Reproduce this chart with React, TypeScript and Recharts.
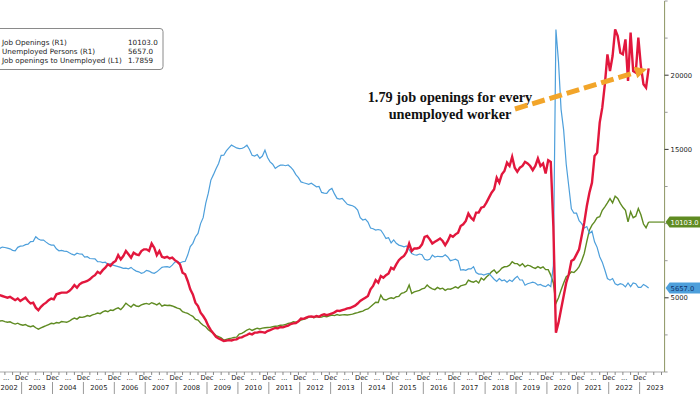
import React from 'react';
import { LineChart, Line, XAxis, YAxis, ReferenceLine } from 'recharts';

// monthly series, Jan 2002 .. Apr 2023
const years = [2002, 2003, 2004, 2005, 2006, 2007, 2008, 2009, 2010, 2011, 2012, 2013, 2014, 2015, 2016, 2017, 2018, 2019, 2020, 2021, 2022, 2023];

// Job openings, thousands (R1)
const jobOpenings = [
  3560, 3520, 3480, 3430, 3460, 3390, 3350, 3380, 3300, 3230, 3290, 3200,
  3150, 3200, 3100, 3050, 3110, 2980, 2890, 2980, 3050, 3120, 3200, 3280,
  3250, 3330, 3300, 3400, 3380, 3350, 3420, 3550, 3630, 3560, 3700, 3680,
  3720, 3800, 3760, 3850, 3900, 3970, 3930, 4050, 4120, 4060, 4180, 4150,
  4250, 4320, 4200, 4400, 4640, 4500, 4380, 4560, 4450, 4420, 4520, 4580,
  4620, 4560, 4670, 4600, 4520, 4640, 4440, 4510, 4480, 4500, 4450, 4380,
  4300, 4250, 4060, 4000, 3950, 3840, 3750, 3550, 3500, 3300, 3150, 3050,
  2850, 2710, 2600, 2450, 2380, 2300, 2150, 2200, 2250, 2280, 2330, 2350,
  2550, 2600, 2700, 2830, 2900, 2800, 2880, 2950, 2900, 2960, 2980, 3000,
  3010, 3050, 3080, 3100, 3150, 3160, 3200, 3280, 3300, 3390, 3350, 3420,
  3500, 3550, 3600, 3700, 3730, 3650, 3730, 3680, 3700, 3760, 3720, 3790,
  3840, 3800, 3870, 3820, 3850, 3860, 3840, 3870, 3900, 3960, 4000, 4060,
  4100, 4200, 4250, 4400, 4550, 4700, 4680, 5180, 4900, 4850, 4950, 5000,
  4950, 5070, 5100, 5300, 5350, 5450, 5860, 5300, 5400, 5450, 5500, 5600,
  5650, 5860, 5700, 5600, 5550, 5700, 5600, 5650, 5500, 5600, 5580, 5650,
  5740, 5650, 5800, 5850, 5900, 6195, 6100, 6050, 6150, 6000, 6330, 6200,
  6400, 6550, 6750, 6870, 6660, 6800, 7000, 7090, 7100, 7200, 7430, 7300,
  7300, 7150, 7300, 7090, 7200, 7150, 7050, 6980, 7100, 7000, 7090, 6900,
  6900, 6530, 6000, 4620, 5000, 5520, 6000, 6420, 6550, 6750, 6700, 6870,
  7100, 7500, 7990, 8800, 9560, 9900, 10120, 10400, 10460, 10900, 11130, 11400,
  11690, 11400, 11850, 11700, 11360, 11100, 10900, 10120, 10800, 10400, 10500, 11020,
  10600, 9970, 9720, 10103,
];

// Unemployed persons, thousands (R1)
const unemployed = [
  8180, 8210, 8300, 8330, 8420, 8390, 8350, 8300, 8200, 8170, 8400, 8480,
  8490, 8580, 8620, 8790, 8800, 9110, 8960, 8880, 8890, 8750, 8620, 8550,
  8550, 8300, 8170, 8200, 8150, 8130, 8030, 7940, 7880, 8000, 7950, 7940,
  7740, 7770, 7650, 7630, 7620, 7430, 7430, 7370, 7400, 7250, 7300, 7200,
  7150, 7100, 7050, 6980, 7000, 6950, 7050, 6900, 6800, 6750, 6650, 6700,
  6850, 6800, 6700, 6650, 6750, 6900, 7050, 7090, 7100, 7050, 7200, 7400,
  7450, 7350, 7430, 7450, 7880, 8450, 8670, 9100, 9340, 10000, 10400, 11360,
  12050, 12930, 13300, 13700, 14050, 14600, 14610, 14900, 15100, 15290, 15200, 15100,
  15050, 15060, 15150, 15290, 15000, 14600, 14550, 14650, 14400, 14550, 14950, 14450,
  14160, 14000, 13720, 13850, 13940, 13950, 13900, 13950, 13800, 13600, 13300, 13100,
  12810, 12750, 12700, 12650, 12720, 12600, 12480, 12500, 12100, 12050, 12030, 12260,
  12370, 12000, 11700, 11650, 11700, 11500, 11300, 11250, 11200, 11100, 10910, 10400,
  10240, 10300, 10100, 9700, 9650, 9560, 9600, 9550, 9300, 9000, 9050, 8700,
  8900, 8670, 8550, 8500, 8440, 8500, 8250, 7990, 7900, 7880, 7950, 7900,
  7600, 7540, 7600, 7880, 7750, 7800, 7770, 7770, 7900, 7750, 7500, 7550,
  7600, 7500, 6870, 6900, 6850, 6950, 6950, 7100, 6700, 6600, 6600, 6530,
  6600, 6650, 6450, 6250, 6100, 6300, 6150, 6200, 6050, 6200, 6100, 6300,
  6450, 6200, 6200, 5850, 5950, 6000, 6050, 6000, 5850, 5900, 5800, 5750,
  5900, 5750, 7150, 23080, 20900, 17700, 16300, 14000, 12500, 11000, 10700, 10700,
  10200, 10000, 9700, 9800, 9340, 9500, 8770, 8400, 7770, 7400, 6870, 6300,
  6190, 6300, 5950, 5860, 5950, 5900, 5740, 6000, 5750, 6000, 5950, 5700,
  5700, 5900, 5800, 5657,
];

// Job openings to unemployed ratio (L1)
const ratio = [
  0.435, 0.43, 0.42, 0.425, 0.42, 0.415, 0.41, 0.415, 0.405, 0.395, 0.405, 0.39,
  0.40, 0.41, 0.39, 0.375, 0.38, 0.35, 0.335, 0.355, 0.37, 0.38, 0.395, 0.405,
  0.40, 0.43, 0.435, 0.44, 0.44, 0.44, 0.45, 0.465, 0.485, 0.47, 0.49, 0.5,
  0.505, 0.51, 0.52, 0.535, 0.545, 0.565, 0.555, 0.575, 0.59, 0.61, 0.60, 0.62,
  0.63, 0.665, 0.64, 0.66, 0.69, 0.67, 0.65, 0.68, 0.67, 0.665, 0.69, 0.70,
  0.70, 0.69, 0.735, 0.71, 0.665, 0.69, 0.655, 0.65, 0.655, 0.645, 0.65, 0.635,
  0.625, 0.61, 0.56, 0.55, 0.51, 0.46, 0.43, 0.38, 0.36, 0.32, 0.30, 0.275,
  0.24, 0.215, 0.195, 0.175, 0.165, 0.158, 0.15, 0.152, 0.155, 0.153, 0.158, 0.16,
  0.17, 0.172, 0.18, 0.186, 0.195, 0.19, 0.2, 0.2, 0.205, 0.203, 0.2, 0.21,
  0.215, 0.222, 0.228, 0.226, 0.234, 0.232, 0.238, 0.242, 0.252, 0.256, 0.258, 0.268,
  0.285, 0.283, 0.29, 0.296, 0.297, 0.294, 0.3, 0.296, 0.305, 0.31, 0.305, 0.31,
  0.315, 0.322, 0.332, 0.33, 0.335, 0.34, 0.346, 0.348, 0.355, 0.362, 0.375, 0.39,
  0.40, 0.41, 0.42, 0.46, 0.48, 0.515, 0.5, 0.54, 0.53, 0.545, 0.555, 0.59,
  0.58, 0.61, 0.635, 0.65, 0.66, 0.685, 0.735, 0.69, 0.705, 0.705, 0.71, 0.73,
  0.775, 0.78, 0.76, 0.735, 0.745, 0.755, 0.765, 0.75, 0.725, 0.75, 0.785, 0.775,
  0.79, 0.80, 0.84, 0.85, 0.87, 0.915, 0.89, 0.875, 0.92, 0.92, 0.95, 0.955,
  0.98, 1.01, 1.04, 1.06, 1.13, 1.10, 1.15, 1.17, 1.22, 1.20, 1.255, 1.19,
  1.165, 1.19, 1.2, 1.225, 1.215, 1.2, 1.175, 1.2, 1.245, 1.2, 1.215, 1.155,
  1.235, 1.225, 0.84, 0.2, 0.26, 0.34, 0.42, 0.50, 0.55, 0.63, 0.64, 0.67,
  0.70, 0.78, 0.86, 0.96, 1.04, 1.10, 1.26, 1.28, 1.46, 1.55, 1.69, 1.87,
  1.77, 1.86, 2.02, 1.98, 1.88, 1.87, 1.96, 1.71, 2.0, 1.77, 1.76, 1.97,
  1.80, 1.69, 1.67, 1.7859,
];

const rightMajor = [5000, 15000, 20000];
const rightMinor = [0, 2500, 7500, 10000, 12500, 17500, 22500, 25000];

const legendLabels = ['Job Openings (R1)', 'Unemployed Persons (R1)', 'Job openings to Unemployed (L1)'];
const legendValues = ['10103.0', '5657.0', '1.7859'];

const RED = '#e2173d';
const BLUE = '#4d9fdb';
const GREEN = '#5f8b22';
const FONT = '"DejaVu Sans", Verdana, sans-serif';

const CHART_W = 707.6;
const CHART_H = 394;
const SHIFT = 7.6; // chart is moved left so Jan 2002 sits off the page
const AXIS_X = 672.6; // right axis, chart coords
const AXIS_Y = 372;
const MONTH_W = 2.575;

const lastIdx = jobOpenings.length - 1;
const lastOpen = jobOpenings[lastIdx];
const lastUnemp = unemployed[lastIdx];

const data = jobOpenings.map((v, i) => ({
  t: i,
  openings: v,
  unemployed: unemployed[i],
  ratio: ratio[i],
}));

const xTicks: number[] = [];
for (let t = 2; t <= 260; t += 3) xTicks.push(t);

const RightTick = (props: any) => {
  const { y, payload } = props;
  const v = payload.value;
  if (v === lastOpen || v === lastUnemp) {
    const fill = v === lastOpen ? GREEN : BLUE;
    const txt = v === lastOpen ? '#ffffff' : '#10306a';
    return (
      <g>
        <polygon
          points={`${AXIS_X + 1},${y} ${AXIS_X + 5},${y - 5.5} ${AXIS_X + 40},${y - 5.5} ${AXIS_X + 40},${y + 5.5} ${AXIS_X + 5},${y + 5.5}`}
          fill={fill}
        />
        <text x={AXIS_X + 6} y={y + 2.5} fontSize={6.8} fontFamily={FONT} fill={txt}>
          {v.toFixed(1)}
        </text>
      </g>
    );
  }
  const major = rightMajor.includes(v);
  return (
    <g>
      <line x1={AXIS_X} x2={AXIS_X + (major ? 4 : 3)} y1={y} y2={y} stroke={major ? '#333' : '#999'} />
      {major && (
        <text x={AXIS_X + 6} y={y + 2.5} fontSize={6.8} fontFamily={FONT} fill="#222">
          {v}
        </text>
      )}
    </g>
  );
};

const XTick = (props: any) => {
  const { x, payload } = props;
  const t = payload.value;
  const m = t % 12;
  const year = years[Math.floor(t / 12)];
  const mid = x + MONTH_W / 2;
  // keep the first year label on the page
  const yearX = Math.max(mid, SHIFT + 9.5);
  return (
    <g>
      <line x1={x} x2={x} y1={AXIS_Y} y2={AXIS_Y + 3} stroke="#888" />
      {m === 11 && (
        <>
          <text x={mid} y={AXIS_Y + 8.5} textAnchor="middle" fontSize={6.8} fontFamily={FONT} fill="#222">Dec</text>
          <line x1={mid} x2={mid} y1={AXIS_Y + 10} y2={CHART_H} stroke="#999" />
        </>
      )}
      {m === 5 && (
        <>
          {t < lastIdx && (
            <text x={mid} y={AXIS_Y + 8.5} textAnchor="middle" fontSize={6.8} fontFamily={FONT} fill="#222">...</text>
          )}
          <text x={yearX} y={AXIS_Y + 18.5} textAnchor="middle" fontSize={6.8} fontFamily={FONT} fill="#222">{year}</text>
        </>
      )}
    </g>
  );
};

// annotation arrow
const A0 = { x: 515, y: 109 };
const A1 = { x: 647, y: 69 };
const alen = Math.hypot(A1.x - A0.x, A1.y - A0.y);
const ux = (A1.x - A0.x) / alen;
const uy = (A1.y - A0.y) / alen;
const headL = 12;
const headW = 6;
const bx = A1.x - ux * headL;
const by = A1.y - uy * headL;

export default function App() {
  return (
    <div style={{ position: 'absolute', left: 0, top: 0, width: 700, height: 394, overflow: 'hidden', background: '#fff' }}>
      <div style={{ position: 'absolute', left: -SHIFT, top: 0 }}>
        <LineChart width={CHART_W} height={CHART_H} data={data} margin={{ top: 1, right: 0, bottom: 0, left: 0 }}>
          <XAxis
            dataKey="t"
            type="number"
            domain={[0, 261.2]}
            ticks={xTicks}
            interval={0}
            height={22}
            tickLine={false}
            axisLine={{ stroke: '#aaa' }}
            tick={(p: any) => <XTick {...p} />}
          />
          <YAxis yAxisId="left" hide domain={[-0.036, 2.19]} />
          <YAxis
            yAxisId="right"
            orientation="right"
            domain={[0, 25000]}
            ticks={[...rightMinor, ...rightMajor, lastUnemp, lastOpen]}
            interval={0}
            width={35}
            tickLine={false}
            axisLine={{ stroke: '#8c9460' }}
            tick={(p: any) => <RightTick {...p} />}
          />
          <ReferenceLine
            yAxisId="right"
            segment={[{ x: lastIdx, y: lastOpen }, { x: 261.2, y: lastOpen }]}
            stroke={GREEN}
            strokeWidth={1.2}
            ifOverflow="visible"
          />
          <Line yAxisId="right" dataKey="openings" stroke={GREEN} strokeWidth={1.4} dot={false} isAnimationActive={false} />
          <Line yAxisId="right" dataKey="unemployed" stroke={BLUE} strokeWidth={1.2} dot={false} isAnimationActive={false} />
          <Line yAxisId="left" dataKey="ratio" stroke={RED} strokeWidth={2.4} dot={false} isAnimationActive={false} />
        </LineChart>
      </div>
      <svg width={700} height={394} style={{ position: 'absolute', left: 0, top: 0, pointerEvents: 'none' }}>
        <rect x={-40} y={28.5} width={203} height={41} rx={3} fill="#fff" stroke="#8a8a8a" />
        {legendLabels.map((label, i) => (
          <g key={label}>
            <text x={2} y={44.6 + i * 9} fontSize={7.2} fontFamily={FONT} fill="#222">{label}</text>
            <text x={128} y={44.6 + i * 9} fontSize={7.2} fontFamily={FONT} fill="#222">{legendValues[i]}</text>
          </g>
        ))}
        <g fontFamily='"Liberation Serif", "DejaVu Serif", serif' fontWeight="bold" fontSize={14.3} fill="#111" textAnchor="middle">
          <text x={450} y={102}>1.79 job openings for every</text>
          <text x={450} y={119}>unemployed worker</text>
        </g>
        <line x1={A0.x} y1={A0.y} x2={bx} y2={by} stroke="#f2a52a" strokeWidth={5} strokeDasharray="13 5" />
        <polygon
          points={`${A1.x},${A1.y} ${bx + uy * headW},${by - ux * headW} ${bx - uy * headW},${by + ux * headW}`}
          fill="#f2a52a"
        />
      </svg>
    </div>
  );
}
